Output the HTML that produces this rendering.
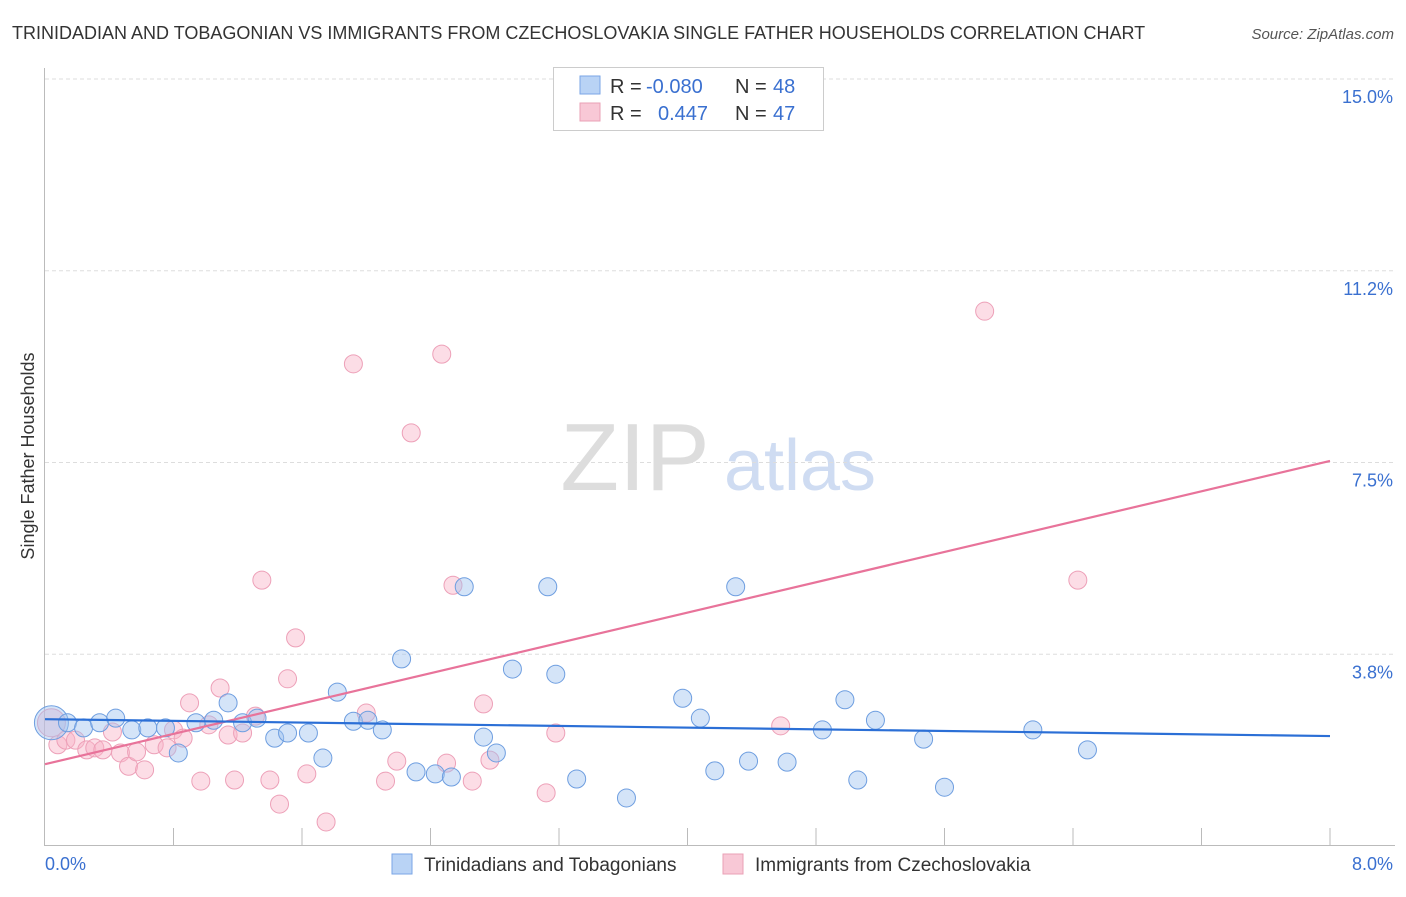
<!DOCTYPE html>
<html><head><meta charset="utf-8"><style>
body{margin:0;background:#fff;font-family:"Liberation Sans",sans-serif;}
svg text{font-family:"Liberation Sans",sans-serif;}
</style></head><body>
<svg id="c" width="1406" height="892">
<text x="12" y="39" font-size="18" fill="#333">TRINIDADIAN AND TOBAGONIAN VS IMMIGRANTS FROM CZECHOSLOVAKIA SINGLE FATHER HOUSEHOLDS CORRELATION CHART</text>
<text x="1394" y="39" font-size="15" fill="#555" font-style="italic" text-anchor="end">Source: ZipAtlas.com</text>
<text x="0" y="0" font-size="18" fill="#333" transform="translate(34,456) rotate(-90)" text-anchor="middle">Single Father Households</text>
<g><text x="635" y="490" font-size="96" fill="#ddd" font-family="Liberation Serif" text-anchor="middle">ZIP</text><text x="800" y="490" font-size="72" fill="#cfdcf2" text-anchor="middle">atlas</text></g>
<g id="grid"></g><g id="axes"></g><g id="pts"></g><g id="lines"></g>
<g>
<rect x="553.5" y="67.5" width="270" height="63" fill="#fff" stroke="#ccc"/>
<rect x="580" y="76" width="20" height="18" fill="#b9d3f5" stroke="#7aa6e6"/>
<rect x="580" y="103" width="20" height="18" fill="#f8c8d6" stroke="#eaa0b6"/>
<text y="93" font-size="20" fill="#333"><tspan x="610">R = </tspan><tspan x="646" fill="#3a70d0">-0.080</tspan><tspan x="735">N = </tspan><tspan x="773" fill="#3a70d0">48</tspan></text>
<text y="120" font-size="20" fill="#333"><tspan x="610">R = </tspan><tspan x="658" fill="#3a70d0">0.447</tspan><tspan x="735">N = </tspan><tspan x="773" fill="#3a70d0">47</tspan></text>
</g>
<g>
<rect x="392" y="854" width="20" height="20" fill="#b9d3f5" stroke="#7aa6e6"/>
<text x="424" y="871" font-size="19" fill="#333">Trinidadians and Tobagonians</text>
<rect x="723" y="854" width="20" height="20" fill="#f8c8d6" stroke="#eaa0b6"/>
<text x="755" y="871" font-size="19" fill="#333">Immigrants from Czechoslovakia</text>
</g>
</svg>
<script>
const blueX=[0.04,0.14,0.24,0.34,0.44,0.54,0.64,0.75,0.83,0.94,1.05,1.14,1.23,1.32,1.43,1.51,1.64,1.73,1.82,1.92,2.01,2.10,2.22,2.31,2.43,2.53,2.61,2.73,2.81,2.91,3.13,3.18,3.31,3.62,3.97,4.08,4.17,4.30,4.38,4.62,4.84,4.98,5.06,5.17,5.47,5.60,6.15,6.49];
const blueY=[2.41,2.41,2.31,2.41,2.50,2.27,2.31,2.31,1.82,2.41,2.46,2.80,2.41,2.50,2.11,2.21,2.21,1.72,3.01,2.44,2.46,2.27,3.66,1.45,1.41,1.35,5.07,2.13,1.82,3.46,5.07,3.36,1.31,0.94,2.89,2.50,1.47,5.07,1.66,1.64,2.27,2.86,1.29,2.46,2.09,1.15,2.27,1.88];
const pinkX=[0.04,0.08,0.13,0.19,0.26,0.31,0.36,0.42,0.47,0.52,0.57,0.62,0.68,0.76,0.80,0.86,0.90,0.97,1.02,1.09,1.14,1.18,1.23,1.31,1.35,1.40,1.46,1.51,1.56,1.63,1.75,1.92,2.00,2.12,2.19,2.28,2.47,2.50,2.54,2.66,2.73,2.77,3.12,3.18,4.58,5.85,6.43];
const pinkY=[2.41,1.98,2.07,2.07,1.88,1.92,1.88,2.23,1.82,1.56,1.84,1.49,1.98,1.92,2.27,2.11,2.80,1.27,2.37,3.09,2.17,1.29,2.21,2.54,5.20,1.29,0.82,3.27,4.07,1.41,0.47,9.43,2.60,1.27,1.66,8.08,9.62,1.62,5.10,1.27,2.78,1.68,1.04,2.21,2.35,10.46,5.20];
const blueTrend=[2.48,2.15];
const pinkTrend=[1.60,7.53];
const yTicks=[15.0,11.25,7.5,3.75];
const yTickLabels=["15.0%","11.2%","7.5%","3.8%"];
const xMin=0,xMax=8;
const X=v=>45+(v-xMin)/(xMax-xMin)*1285;
const Y=v=>846-v*51.13;
const NS="http://www.w3.org/2000/svg";
function mk(t,a,p){const e=document.createElementNS(NS,t);for(const k in a)e.setAttribute(k,a[k]);p.appendChild(e);return e;}
const grid=document.getElementById('grid'),axes=document.getElementById('axes'),pts=document.getElementById('pts'),lines=document.getElementById('lines');
yTicks.forEach((t,i)=>{
 const l=mk('line',{x1:45,x2:1395,y1:Y(t),y2:Y(t),stroke:'#ddd','stroke-dasharray':'4,3'},grid);
 
 
 const tx=mk('text',{x:1393,y:Y(t)+24,'font-size':18,fill:'#3a70d0','text-anchor':'end'},grid);
 tx.textContent=yTickLabels[i];
 
 
});
const ya=mk('line',{x1:44.5,x2:44.5,y1:68,y2:846,stroke:'#bbb'},axes);


const xa=mk('line',{x1:44,x2:1395,y1:845.5,y2:845.5,stroke:'#bbb'},axes);


for(let v=0.8;v<=8.001;v+=0.8){
 const t=mk('line',{x1:X(v),x2:X(v),y1:828,y2:845,stroke:'#bbb'},axes);
 
 
}
const xl=mk('text',{x:45,y:870,'font-size':18,fill:'#3a70d0'},axes);xl.textContent='0.0%';


const xr=mk('text',{x:1393,y:870,'font-size':18,fill:'#3a70d0','text-anchor':'end'},axes);xr.textContent='8.0%';


pinkX.forEach((x,i)=>{
 const c=mk('circle',{cx:X(x),cy:Y(pinkY[i]),r:i==0?14:9,fill:'rgba(248,180,200,0.45)',stroke:'#eda0b8','stroke-width':1},pts);
 
 
});
blueX.forEach((x,i)=>{
 const c=mk('circle',{cx:X(x),cy:Y(blueY[i]),r:i==0?17:9,fill:'rgba(160,195,240,0.45)',stroke:'#6e9ee0','stroke-width':1},pts);
 
 
});
const pl=mk('line',{x1:X(0),y1:Y(pinkTrend[0]),x2:X(8),y2:Y(pinkTrend[1]),stroke:'#e8739a','stroke-width':2.2},lines);


const bl=mk('line',{x1:X(0),y1:Y(blueTrend[0]),x2:X(8),y2:Y(blueTrend[1]),stroke:'#2b6fd6','stroke-width':2.2},lines);


</script>
</body></html>
